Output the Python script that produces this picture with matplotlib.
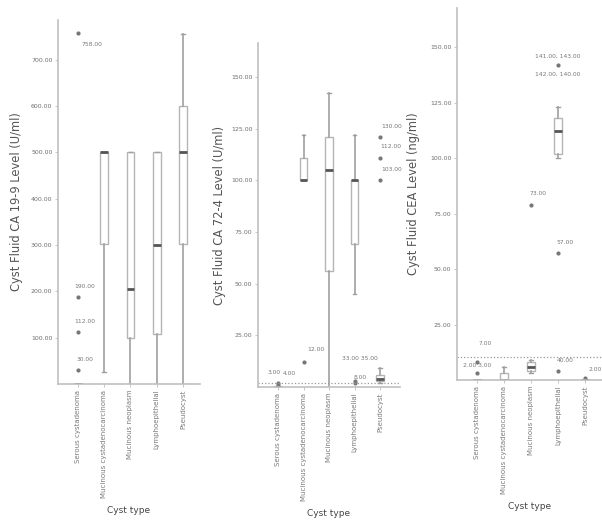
import matplotlib
matplotlib.use("Agg")
import matplotlib.pyplot as plt

# category names (same on every panel)
cyst_types = ["Serous cystadenoma", "Mucinous cystadenocarcinoma",
              "Mucinous neoplasm", "Lymphoepithelial", "Pseudocyst"]

# five-number summaries per category: whislo, q1, med, q3, whishi
ca199_stats = [(0, 0, 0, 0, 0), (25, 302, 500, 500, 500), (0, 100, 205, 500, 500),
               (0, 108, 300, 500, 500), (0, 302, 500, 600, 756)]
ca724_stats = [(0, 0, 0, 0, 0), (100, 100, 100, 111, 122), (0, 56, 105, 121, 142),
               (45, 69, 100, 100, 122), (2, 3, 4, 6, 9)]
cea_stats = [(0, 0, 0, 0, 0), (0, 0, 0, 3, 6), (3, 4, 6, 8, 9),
             (100, 102, 112, 118, 123), (0, 0, 0, 0, 0)]

# outliers: (category index, value, case label)
ca199_out = [(0, 30, "30.00"), (0, 112, "112.00"), (0, 188, "190.00"), (0, 758, "758.00")]
ca724_out = [(0, 1, "3.00"), (0, 2, "4.00"), (1, 12, "12.00"), (3, 3, "33.00 35.00"),
             (3, 2, "8.00"), (4, 100, "103.00"), (4, 111, "112.00"), (4, 121, "130.00")]
cea_out = [(0, 3, "2.00 3.00"), (0, 8, "7.00"), (2, 79, "73.00"), (3, 57, "57.00"),
           (3, 4, "40.00"), (3, 142, "141.00, 143.00"), (4, 1, "2.00")]
cea_low_label = ("142.00, 140.00", 142)

# label offsets (points) for the outlier annotations, same order as above
ca199_off = [(5, 6), (5, 6), (5, 6), (10, -10)]
ca724_off = [(-3, 7), (8, 5), (9, 7), (4, 14), (4, 2), (8, 6), (8, 6), (8, 6)]
cea_off = [(0, 4), (6, 12), (5, 6), (5, 6), (5, 6), (0, 4), (7, 4)]

ylabels = ["Cyst Fluid CA 19-9 Level (U/ml)", "Cyst Fluid CA 72-4 Level (U/ml)",
           "Cyst Fluid CEA Level (ng/ml)"]
yticks = [[100, 200, 300, 400, 500, 600, 700],
          [25, 50, 75, 100, 125, 150],
          [25, 50, 75, 100, 125, 150]]
ylims = [786, 166.4, 167.6]
xlims = [(0.238, 5.65), (0.216, 5.78), (0.26, 5.63)]
ref_lines = [None, 2, 10.5]

W, H = 602, 531
boxes_px = [(58, 200, 20, 384), (258, 400, 43, 387), (457, 602, 8, 380)]
ylab_x = [17, 219, 414]

fig = plt.figure(figsize=(6.02, 5.31), dpi=100)
all_stats = [ca199_stats, ca724_stats, cea_stats]
all_out = [ca199_out, ca724_out, cea_out]
all_off = [ca199_off, ca724_off, cea_off]

for i in range(3):
    l, r, t, b = boxes_px[i]
    ax = fig.add_axes([l / W, (H - b) / H, (r - l) / W, (b - t) / H])
    stats = []
    for s in all_stats[i]:
        stats.append({"whislo": s[0], "q1": s[1], "med": s[2], "q3": s[3],
                      "whishi": s[4], "fliers": []})
    ax.bxp(stats, positions=range(1, 6), widths=0.3, showfliers=False,
           patch_artist=True,
           boxprops=dict(facecolor="white", edgecolor="#b5b5b5", linewidth=1.0),
           medianprops=dict(color="#555555", linewidth=2.0),
           whiskerprops=dict(color="#a0a0a0", linewidth=1.2),
           capprops=dict(color="#a0a0a0", linewidth=1.0))
    for (c, v, lab), off in zip(all_out[i], all_off[i]):
        ax.plot(c + 1, v, "o", ms=2, mfc="#777777", mec="#777777")
        ax.annotate(lab, (c + 1, v), xytext=off, textcoords="offset points",
                    fontsize=4.3, color="#777777", ha="center", va="bottom",
                    annotation_clip=False)
    if i == 2:
        ax.annotate(cea_low_label[0], (4, cea_low_label[1]), xytext=(0, -5),
                    textcoords="offset points", fontsize=4.3, color="#777777",
                    ha="center", va="top")
    if ref_lines[i] is not None:
        ax.axhline(ref_lines[i], color="#999999", ls=":", lw=0.9)
    ax.set_ylim(0, ylims[i])
    ax.set_xlim(*xlims[i])
    ax.set_yticks(yticks[i])
    ax.set_yticklabels(["%.2f" % v for v in yticks[i]], fontsize=4.5, color="#6f6f6f")
    ax.set_xticks(range(1, 6))
    ax.set_xticklabels(cyst_types, rotation=90, fontsize=5, color="#7a7a7a")
    ax.tick_params(length=2, width=0.6, color="#bbbbbb", pad=2)
    for sp in ["top", "right"]:
        ax.spines[sp].set_visible(False)
    for sp in ["left", "bottom"]:
        ax.spines[sp].set_color("#c0c0c0")
        ax.spines[sp].set_linewidth(1.2)
    ax.set_xlabel("Cyst type", fontsize=6.5, color="#444444", labelpad=6)
    fig.text(ylab_x[i] / W, 1 - ((t + b) / 2) / H, ylabels[i], rotation=90,
             fontsize=8.3, color="#555555", ha="center", va="center")

fig.savefig("out.png", dpi=100)
